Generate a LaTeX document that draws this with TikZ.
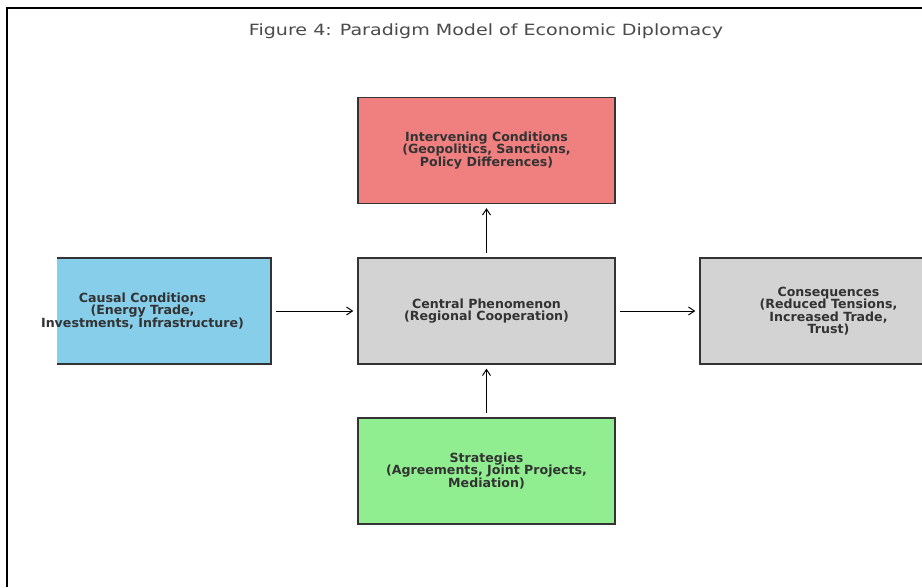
\documentclass[tikz,border=0pt]{standalone}
\usepackage{fontspec}
\setmainfont{DejaVu Sans}
\usetikzlibrary{arrows.meta}
\definecolor{skyb}{HTML}{87CEEB}
\definecolor{lcoral}{HTML}{F08080}
\definecolor{lgray}{HTML}{D3D3D3}
\definecolor{lgreen}{HTML}{90EE90}
\definecolor{txt}{HTML}{333333}
\definecolor{ttl}{HTML}{4A4A4A}
\tikzset{
  box/.style={rectangle, draw=black!80, line width=1.3pt, minimum width=257pt, minimum height=106pt, inner sep=0pt},
  lbl/.style={align=center, text=txt, font=\fontsize{12.6}{12.4}\selectfont\bfseries},
  conn/.style={-{Straight Barb[length=6pt,width=8pt]}, line width=1pt, shorten <=4pt, shorten >=4pt},
}
\begin{document}
\begin{tikzpicture}[x=1pt,y=-1pt]
\useasboundingbox (0,0) rectangle (922,587);
\fill[white] (0,0) rectangle (922,587);
\draw[line width=1.5pt, black] (7,587) -- (7,8) -- (922,8);
\node[font=\fontsize{15.5}{18}\selectfont, text=ttl] (title) at (486,31) {\scalebox{1.23}[1]{Figure 4: Paradigm Model of Economic Diplomacy}};
\begin{scope}
  \clip (57,0) rectangle (922,587);
  \node[box, fill=skyb] (causal) at (142.5,311) {};
  \node[box, fill=lgray] (cons) at (828.5,311) {};
\end{scope}
\node[box, fill=lcoral] (inter) at (486.5,150.5) {};
\node[box, fill=lgray] (central) at (486.5,311) {};
\node[box, fill=lgreen] (strat) at (486.5,471) {};
\node[lbl] at (causal) {Causal Conditions\\(Energy Trade,\\Investments, Infrastructure)};
\node[lbl] at (cons) {Consequences\\(Reduced Tensions,\\Increased Trade,\\Trust)};
\node[lbl] at (inter) {Intervening Conditions\\(Geopolitics, Sanctions,\\Policy Differences)};
\node[lbl] at (central) {Central Phenomenon\\(Regional Cooperation)};
\node[lbl] at (strat) {Strategies\\(Agreements, Joint Projects,\\Mediation)};
\draw[conn] (causal.east) -- (central.west);
\draw[conn] (central.east) -- (cons.west);
\draw[conn] (central.north) -- (inter.south);
\draw[conn] (strat.north) -- (central.south);
\end{tikzpicture}
\end{document}
